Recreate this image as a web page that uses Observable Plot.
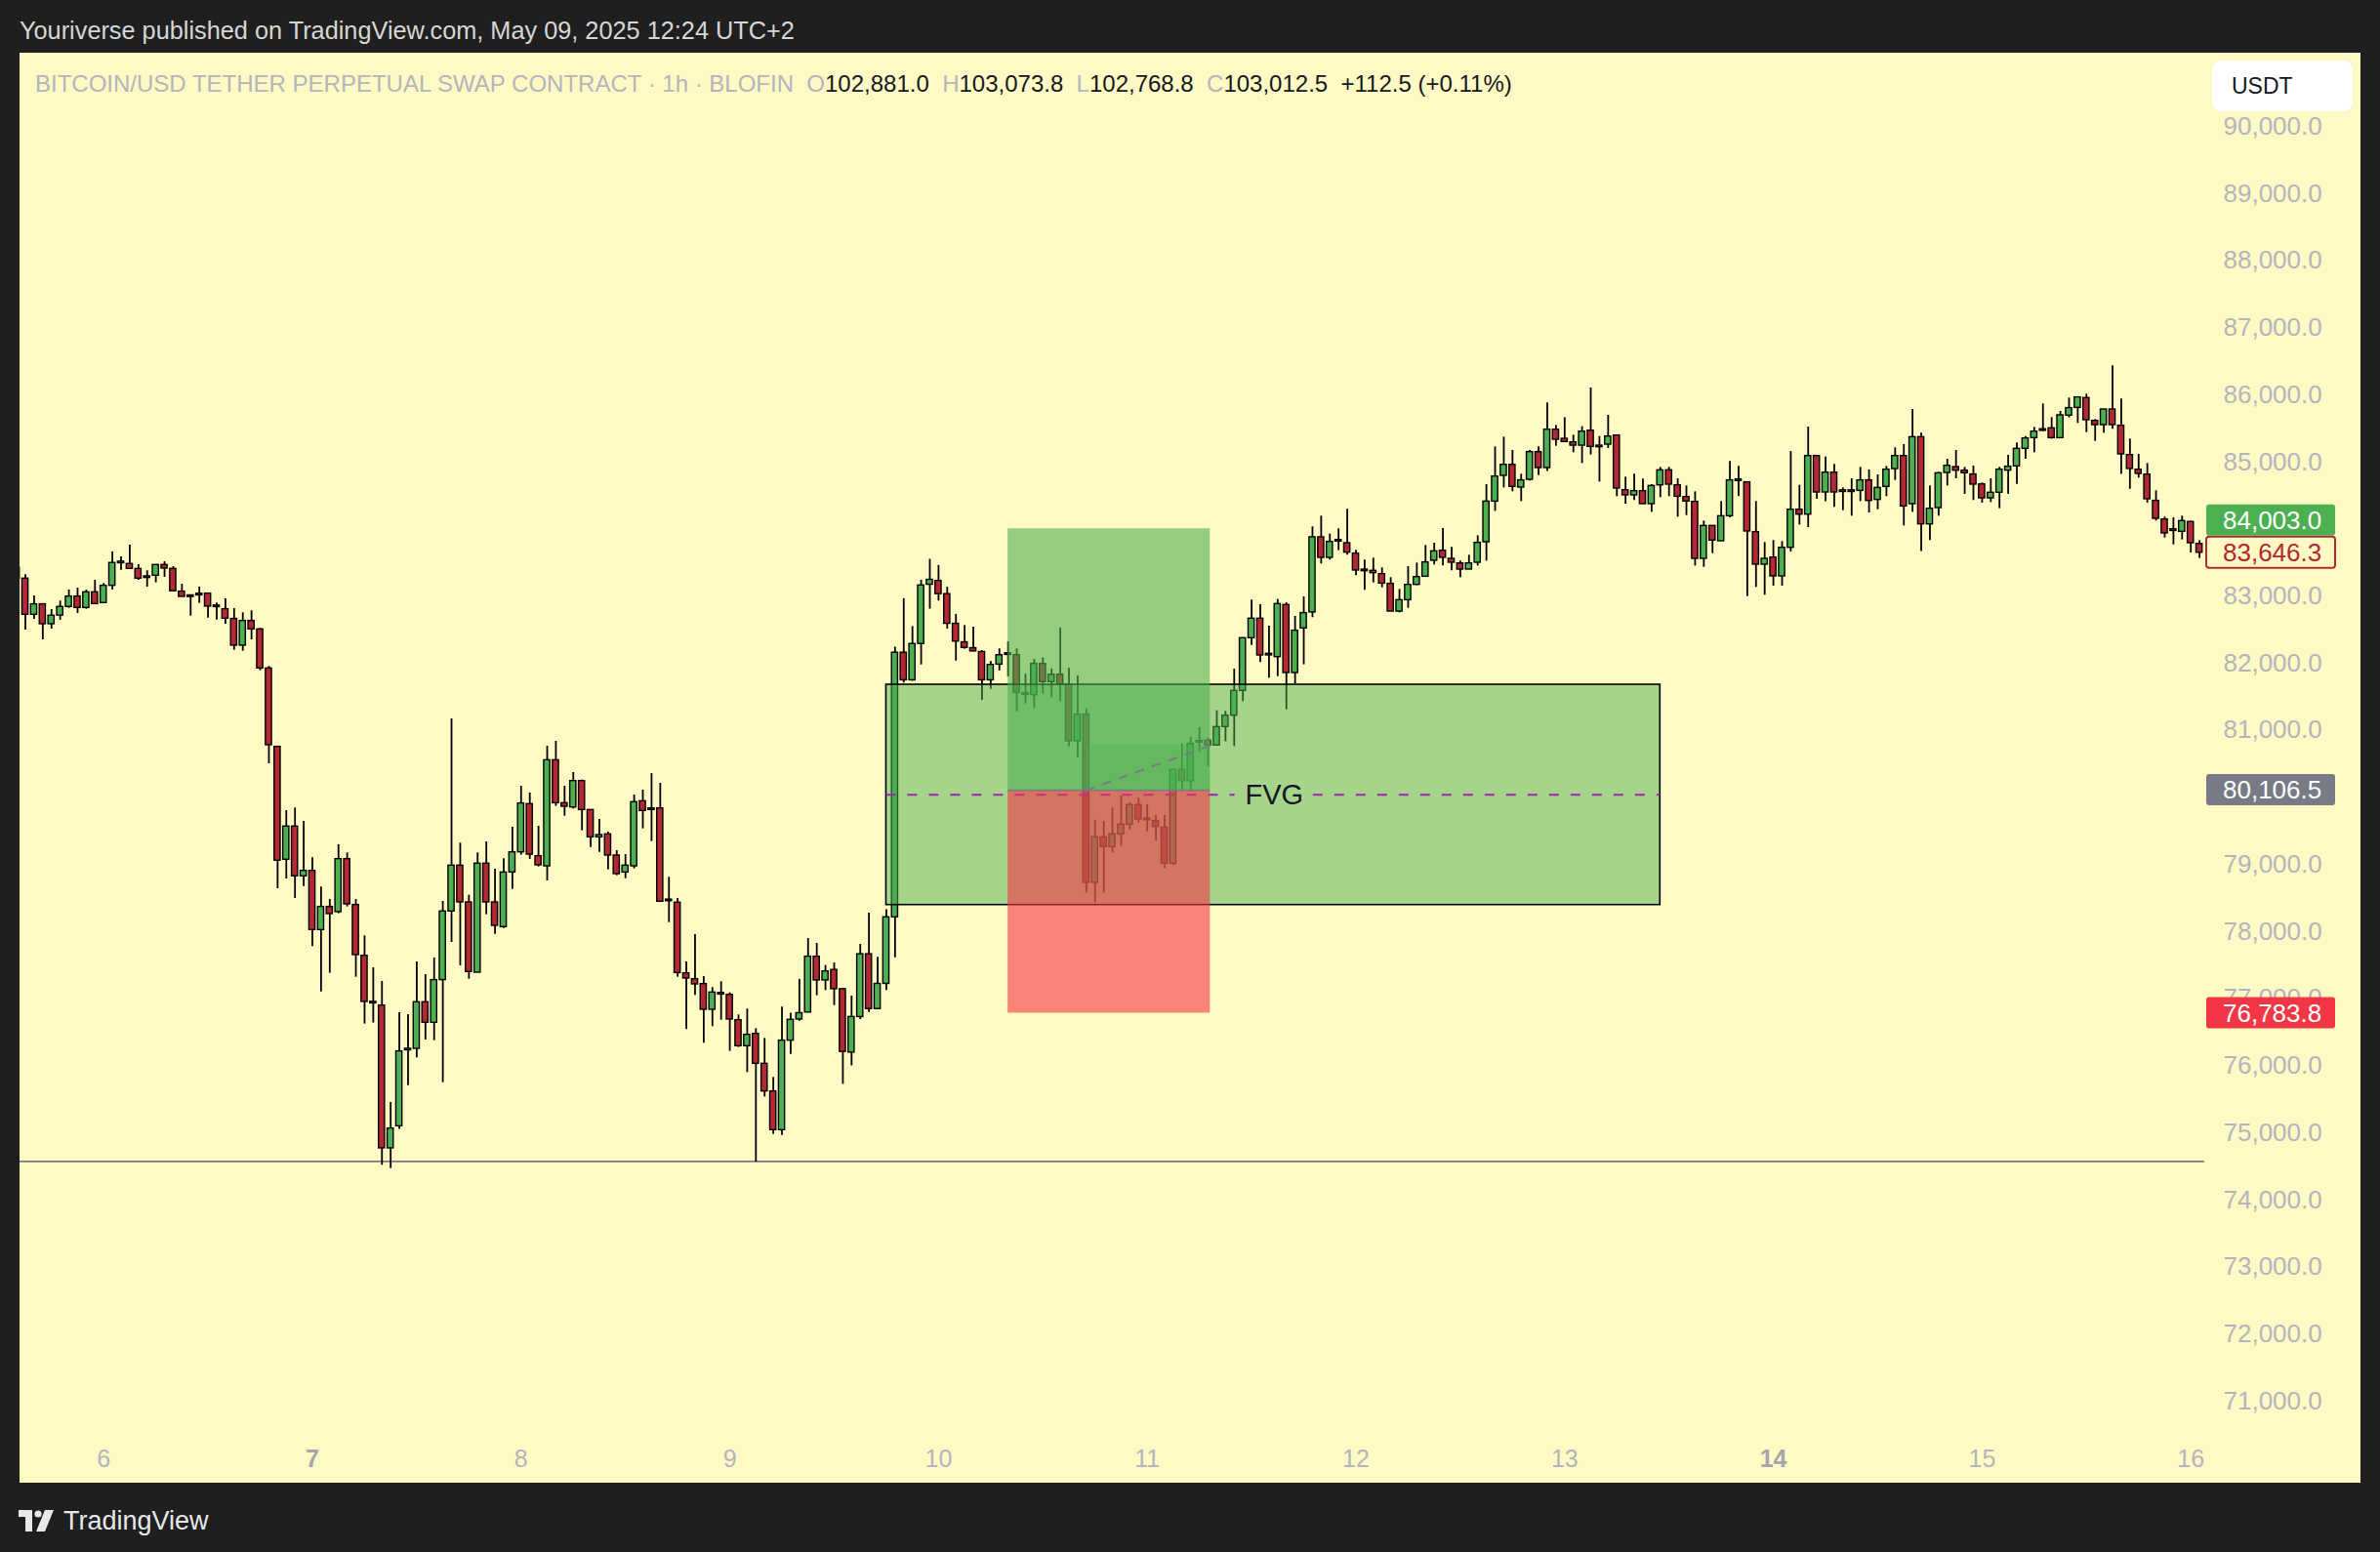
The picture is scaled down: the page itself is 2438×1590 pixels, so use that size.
<!DOCTYPE html>
<html><head><meta charset="utf-8">
<script src="https://cdn.jsdelivr.net/npm/d3@7"></script>
<script src="https://cdn.jsdelivr.net/npm/@observablehq/plot@0.6"></script>
<style>
html,body{margin:0;padding:0;background:#1f1f1f;}
body{width:2438px;height:1590px;position:relative;overflow:hidden;font-family:"Liberation Sans",Arial,sans-serif;}
#hdr{position:absolute;left:20px;top:13px;height:36px;line-height:36px;color:#d6d6d6;font-size:25.3px;white-space:nowrap;}
#panel{position:absolute;left:20px;top:54px;width:2398px;height:1465px;}
#legend{position:absolute;left:36px;top:71px;height:30px;line-height:30px;font-size:24px;white-space:nowrap;color:#131722;}
#legend .g{color:#b2b5be;}
#usdt{position:absolute;left:2266px;top:62px;width:144px;height:52px;background:#fff;border-radius:9px;box-sizing:border-box;padding-left:20px;line-height:52px;font-size:23px;color:#131722;}
#foot{position:absolute;left:19px;top:1543px;height:30px;display:flex;align-items:center;color:#e8e8e8;font-size:27px;}
#foot svg{margin-right:8px;}
</style></head>
<body>
<div id="hdr">Youriverse published on TradingView.com, May 09, 2025 12:24 UTC+2</div>
<div id="panel"></div>
<div id="legend"><span class="g">BITCOIN/USD TETHER PERPETUAL SWAP CONTRACT · 1h · BLOFIN&nbsp;&nbsp;O</span>102,881.0&nbsp;&nbsp;<span class="g">H</span>103,073.8&nbsp;&nbsp;<span class="g">L</span>102,768.8&nbsp;&nbsp;<span class="g">C</span>103,012.5&nbsp;&nbsp;+112.5 (+0.11%)</div>
<div id="usdt">USDT</div>
<div id="foot"><svg width="38" height="22" viewBox="0 0 38 22"><path d="M0 0H14V22H7V7H0Z" fill="#e8e8e8"/><circle cx="20" cy="4" r="3.6" fill="#e8e8e8"/><path d="M27 0H36L27 22H18Z" fill="#e8e8e8"/></svg>TradingView</div>
<script>
// ---- data: hourly candles, first candle opens Apr 5 2025 14:00 ----
const firstCandle = Date.UTC(2025, 3, 5, 14);
const opens = [
83420,83260,82721,82877,82581,82710,82838,82993,82823,83056,
82896,83153,83493,83478,83405,83294,83303,83463,83405,83066,
83003,83027,83037,82852,82804,82659,82261,82629,82503,81921,
80753,79070,79565,78823,78905,78022,78367,78289,79079,78396,
77639,76946,76897,74769,75098,76238,76252,76946,76640,77276,
78299,78982,78434,77387,79012,78434,78066,78880,79181,79899,
79123,78972,80553,79913,79850,80243,79811,79404,79448,79133,
78880,78972,79942,79830,79836,78468,78430,77377,77290,77217,
76834,77077,77057,76679,76291,76475,76029,75617,75040,76374,
76689,76793,77625,77271,77427,77141,76196,76726,77661,76845,
77220,78212,82156,81745,82286,83169,83226,83029,82587,82311,
82223,82166,81745,81979,82140,82119,81547,81522,81989,81719,
81828,81678,80835,81233,78726,79405,79259,79448,79594,79885,
79676,79647,79550,79012,80408,80239,80826,80845,80772,81048,
81218,81587,82372,82663,82130,82091,82867,81853,82518,82756,
83876,83570,83827,83788,83633,83385,83376,83327,83182,82769,
82939,83167,83288,83526,83676,83555,83487,83395,83497,83802,
84408,84792,84956,84617,84733,85146,84908,85480,85344,85291,
85242,85465,85233,85257,85393,84578,84501,84564,84370,84651,
84874,84651,84476,84404,83555,84045,83817,84190,84724,84695,
83953,83468,83574,83293,83720,84287,84214,85087,84544,84840,
84568,84560,84568,84724,84433,84627,84893,85087,84370,85368,
84069,84311,84835,84922,84870,84812,84666,84457,84540,84870,
84933,85194,85354,85480,85500,85354,85689,85805,85951,85611,
85548,85781,85539,85102,84884,84811,84419,84142,83978,83958,
84104,83778];
const highs = [
83480,83318,83003,82877,82799,82925,83090,83119,83090,83235,
83187,83657,83585,83759,83468,83376,83470,83512,83439,83177,
83003,83134,83037,82896,82959,82814,82751,82780,82518,81951,
80753,79802,79841,79642,79099,78663,78478,79293,79172,78478,
77935,77460,77256,75452,76791,76762,77547,77358,77606,78449,
81169,79317,78541,79172,79336,78929,79084,79555,80165,80064,
79569,80762,80835,80165,80369,80258,79811,79671,79482,79205,
79147,80035,80107,80354,80209,78808,78493,77547,77954,77329,
77164,77251,77086,76757,76844,76553,76407,75826,76873,76783,
77287,77895,77822,77495,77531,77141,77038,77807,78274,77614,
78326,82239,82961,82545,83236,83548,83455,83132,82727,82561,
82535,82187,82026,82213,82317,82213,81833,82057,82078,81911,
82524,81922,81805,81320,79657,79642,79841,80021,79923,79986,
79890,79729,79729,80423,80796,80893,81039,80879,81291,81281,
81911,82380,82940,82872,82552,82950,82900,82697,82988,84031,
84191,83924,84002,84293,83681,83536,83565,83419,83274,83099,
83439,83492,83754,83788,84006,83725,83521,83608,83899,84661,
85223,85369,85170,84816,85170,85223,85878,85543,85659,85398,
85524,86101,85378,85694,85393,84772,84816,84743,84661,84918,
84918,84748,84641,84554,84117,84045,84408,85005,84932,84695,
84408,83798,83827,83812,85155,84651,85519,85087,85073,84961,
84612,84748,84918,84879,84806,84932,85209,85257,85781,85427,
84641,84845,85039,85170,84918,84938,84685,84748,84918,85098,
85282,85379,85514,85864,85660,85752,85951,85961,86009,85631,
85781,86431,85936,85340,85112,84976,84569,84176,84167,84191,
84118,83827];
const lows = [
83200,82494,82654,82348,82508,82639,82818,82741,82804,82881,
82896,83090,83386,83405,83235,83134,83197,83279,83071,82988,
82702,82891,82673,82644,82581,82193,82178,82348,81887,80501,
78638,78784,78493,78672,77775,77101,77378,78265,78367,77319,
76621,76636,74516,74468,75050,75704,76117,76384,76374,75748,
77838,77489,77290,77387,78250,77959,78046,78628,79138,79074,
78963,78754,79865,79719,79826,79501,79254,79181,78919,78832,
78788,78934,79530,79341,78444,78134,77319,76538,77048,76335,
76582,76679,76214,76272,75898,74565,75534,74977,74962,76170,
76663,76793,77043,77121,76897,75723,75998,76689,76793,76835,
77121,77609,81704,81730,81974,82805,82925,82509,82031,82208,
82171,81444,81610,81885,81797,81277,81392,81324,81537,81485,
81428,80753,80593,78575,78430,78575,79172,79269,79511,79618,
79487,79351,78939,78988,80103,80103,80675,80457,80772,80830,
80757,81427,82265,82008,81776,81800,81305,81693,81975,82678,
83478,83536,83677,83609,83303,83085,83196,83123,82769,82750,
82818,83157,83288,83463,83448,83376,83274,83395,83448,83521,
84263,84612,84554,84408,84714,84797,84859,85233,85296,85136,
84976,85102,84700,85199,84481,84370,84423,84370,84248,84467,
84481,84176,84200,83448,83429,83633,83817,84166,84481,82993,
83128,83012,83148,83148,83657,84059,84020,84442,84408,84321,
84273,84190,84408,84239,84287,84481,84724,84045,84248,83666,
83827,84190,84641,84748,84516,84424,84385,84394,84302,84516,
84666,85039,85136,85451,85340,85354,85655,85573,85437,85306,
85427,85485,84812,84593,84758,84385,84118,83866,83764,83837,
83643,83561];
const closes = [
83260,82721,82877,82581,82707,82838,82993,82823,83056,82881,
83153,83493,83510,83405,83260,83270,83463,83410,83071,82988,
82993,83017,82843,82843,82663,82261,82629,82503,81921,80777,
79056,79565,78823,78905,78022,78367,78260,79079,78405,77649,
76951,76936,74769,75064,76214,76245,76946,76640,77276,78299,
78982,78434,77397,79012,78434,78085,78880,79181,79909,79147,
78987,80553,79913,79860,80243,79811,79404,79438,79133,78856,
78982,79928,79797,79816,78444,78460,77382,77300,77212,76834,
77091,77070,76689,76291,76461,76029,75617,75040,76374,76684,
76783,77625,77271,77406,77141,76206,76726,77661,76845,77220,
78212,82156,81745,82286,83158,83242,83029,82587,82322,82228,
82175,81745,81974,82119,82130,81558,81532,81989,81719,81828,
81678,80836,81233,78726,79405,79259,79448,79594,79885,79671,
79666,79560,79012,80408,80239,80796,80831,80772,81048,81218,
81587,82372,82663,82115,82125,82881,81853,82484,82746,83876,
83570,83808,83820,83648,83381,83380,83342,83186,82769,82939,
83167,83283,83502,83667,83570,83497,83395,83487,83793,84408,
84782,84956,84627,84724,85146,84908,85480,85330,85296,85242,
85451,85223,85228,85378,84603,84501,84564,84370,84641,84874,
84661,84481,84409,83555,84045,83827,84190,84724,84730,83963,
83468,83555,83293,83720,84287,84214,85087,84544,84840,84544,
84560,84568,84724,84418,84612,84884,85087,84336,85368,84069,
84302,84830,84942,84869,84831,84661,84457,84540,84884,84928,
85194,85350,85451,85470,85354,85694,85801,85961,85621,85548,
85781,85548,85112,84894,84821,84443,84152,83934,83988,84118,
83788,83646];

// axis ticks / labels
const priceTicks = [71000,72000,73000,74000,75000,76000,77000,78000,79000,80000,81000,82000,83000,84000,85000,86000,87000,88000,89000,90000];
const dayTicks = [6,7,8,9,10,11,12,13,14,15,16];
const boldDays = [7,14];

// drawings
const supportLevel = 74573;
const fvgStart = Date.UTC(2025,3,9,18), fvgEnd = Date.UTC(2025,3,13,11);
const fvgTop = 81678, fvgBottom = 78395;
const fvgLabel = "FVG", fvgLabelTime = Date.UTC(2025,3,11,14,36);
const posStart = Date.UTC(2025,3,10,8), posEnd = Date.UTC(2025,3,11,7,15);
const posFill = Date.UTC(2025,3,10,17);
const entryPrice = 80106.5, targetPrice = 84003.0, stopPrice = 76783.8, posClose = 80772;
const lastPrice = 83646.3;

const hour = 3600e3;
const candles = opens.map((o, i) => {
  const c = closes[i];
  let top = Math.max(o, c), bot = Math.min(o, c);
  if (top - bot < 24) { const m = (top + bot) / 2; top = m + 12; bot = m - 12; }
  return {t: new Date(firstCandle + i * hour), o, h: highs[i], l: lows[i], c, top, bot, up: c >= o};
});
const half = 21 * 60e3;
const W = 2398, H = 1465, MR = 160;
const green = "#4caf50", red = "#b22833";
const yOpts = {domain: [71000, 90000], range: [1381, 75]};
const yScale = Plot.scale({y: yOpts});

// price labels with simple collision handling
const labels = [
  {v: targetPrice, fill: "#4caf50", stroke: "none", color: "#fff"},
  {v: lastPrice, fill: "#fff9c4", stroke: "#b22833", color: "#b22833"},
  {v: entryPrice, fill: "#787b86", stroke: "none", color: "#fff"},
  {v: stopPrice, fill: "#f23645", stroke: "none", color: "#fff"}
].map(d => ({...d, y: yScale.apply(d.v)})).sort((a, b) => b.y - a.y);
for (let i = 1; i < labels.length; i++) {
  if (labels[i - 1].y - labels[i].y < 33) labels[i].y = labels[i - 1].y - 33;
}
// tick labels fully hidden behind a price label are not drawn
const shownTicks = priceTicks.filter(t => labels.every(l => Math.abs(yScale.apply(t) - l.y) > 12));

const bodies = (rows, fill) => Plot.rect(rows, {
  x1: d => new Date(+d.t - half), x2: d => new Date(+d.t + half),
  y1: "bot", y2: "top", fill, stroke: "#000", strokeWidth: 1.4, clip: true
});

const mid = (fvgTop + fvgBottom) / 2;
const gap = 4.5 * hour;
const midSegs = [
  {x1: new Date(fvgStart), x2: new Date(fvgLabelTime - gap), y: mid},
  {x1: new Date(fvgLabelTime + gap), x2: new Date(fvgEnd), y: mid}
];

const plot = Plot.plot({
  width: W, height: H,
  marginLeft: 0, marginRight: MR, marginTop: 0, marginBottom: 0,
  style: {background: "#fff9c4", fontFamily: "Liberation Sans, Arial, sans-serif", overflow: "visible"},
  x: {type: "utc", domain: [new Date(Date.UTC(2025,3,6)), new Date(Date.UTC(2025,3,16))], range: [85.7, 2223.7], axis: null},
  y: yOpts,
  marks: [
    Plot.ruleY([supportLevel], {stroke: "#787b86", strokeWidth: 1.6}),
    Plot.ruleX(candles, {x: "t", y1: "l", y2: "h", stroke: "#000", strokeWidth: 1.8, clip: true}),
    bodies(candles.filter(d => d.up), green),
    bodies(candles.filter(d => !d.up), red),
    // FVG box
    Plot.rect([{}], {x1: () => new Date(fvgStart), x2: () => new Date(fvgEnd), y1: () => fvgBottom, y2: () => fvgTop,
      fill: green, fillOpacity: 0.5, stroke: "#000", strokeWidth: 1.6}),
    Plot.ruleY(midSegs, {y: "y", x1: "x1", x2: "x2", stroke: "#9c27b0", strokeWidth: 2, strokeDasharray: "10,12"}),
    Plot.text([fvgLabel], {x: () => new Date(fvgLabelTime), y: () => mid, text: d => d, fontSize: 29, fill: "#131722"}),
    // long position
    Plot.rect([{}], {x1: () => new Date(posStart), x2: () => new Date(posEnd), y1: () => entryPrice, y2: () => targetPrice, fill: green, fillOpacity: 0.6}),
    Plot.rect([{}], {x1: () => new Date(posStart), x2: () => new Date(posEnd), y1: () => stopPrice, y2: () => entryPrice, fill: "#f23645", fillOpacity: 0.6}),
    Plot.rect([{}], {x1: () => new Date(posFill), x2: () => new Date(posEnd), y1: () => entryPrice, y2: () => posClose, fill: green, fillOpacity: 0.35}),
    Plot.ruleY([entryPrice], {x1: () => new Date(posStart), x2: () => new Date(posEnd), stroke: "#787b86", strokeWidth: 1.8, strokeOpacity: 0.9}),
    Plot.line([{t: new Date(posFill), p: entryPrice}, {t: new Date(posEnd), p: posClose}], {x: "t", y: "p", stroke: "#787b86", strokeWidth: 2, strokeDasharray: "8,10"}),
    // axes
    Plot.axisY(shownTicks, {anchor: "right", tickSize: 0, tickPadding: 19, tickFormat: d3.format(",.1f"), fontSize: 26, fill: "#b2b5be"}),
    Plot.text(dayTicks.filter(d => !boldDays.includes(d)), {x: d => new Date(Date.UTC(2025,3,d)), frameAnchor: "bottom", lineAnchor: "middle", dy: -25, text: d => String(d), fontSize: 25, fill: "#b2b5be"}),
    Plot.text(boldDays, {x: d => new Date(Date.UTC(2025,3,d)), frameAnchor: "bottom", lineAnchor: "middle", dy: -25, text: d => String(d), fontSize: 25, fontWeight: "bold", fill: "#a3a6af"})
  ]
});

const svg = d3.select(plot);
const g = svg.append("g").attr("text-anchor", "start");
const lx = W - MR + 2;
for (const d of labels) {
  g.append("rect").attr("x", lx).attr("y", d.y - 16).attr("width", 132).attr("height", 32).attr("rx", 3)
    .attr("fill", d.fill).attr("stroke", d.stroke).attr("stroke-width", 2);
  g.append("text").attr("x", W - MR + 19).attr("y", d.y).attr("dy", "0.35em").attr("fill", d.color)
    .attr("text-anchor", "start")
    .attr("font-size", 26).attr("font-family", "Liberation Sans, Arial, sans-serif").text(d3.format(",.1f")(d.v));
}
document.getElementById("panel").appendChild(plot);
</script>
</body></html>
